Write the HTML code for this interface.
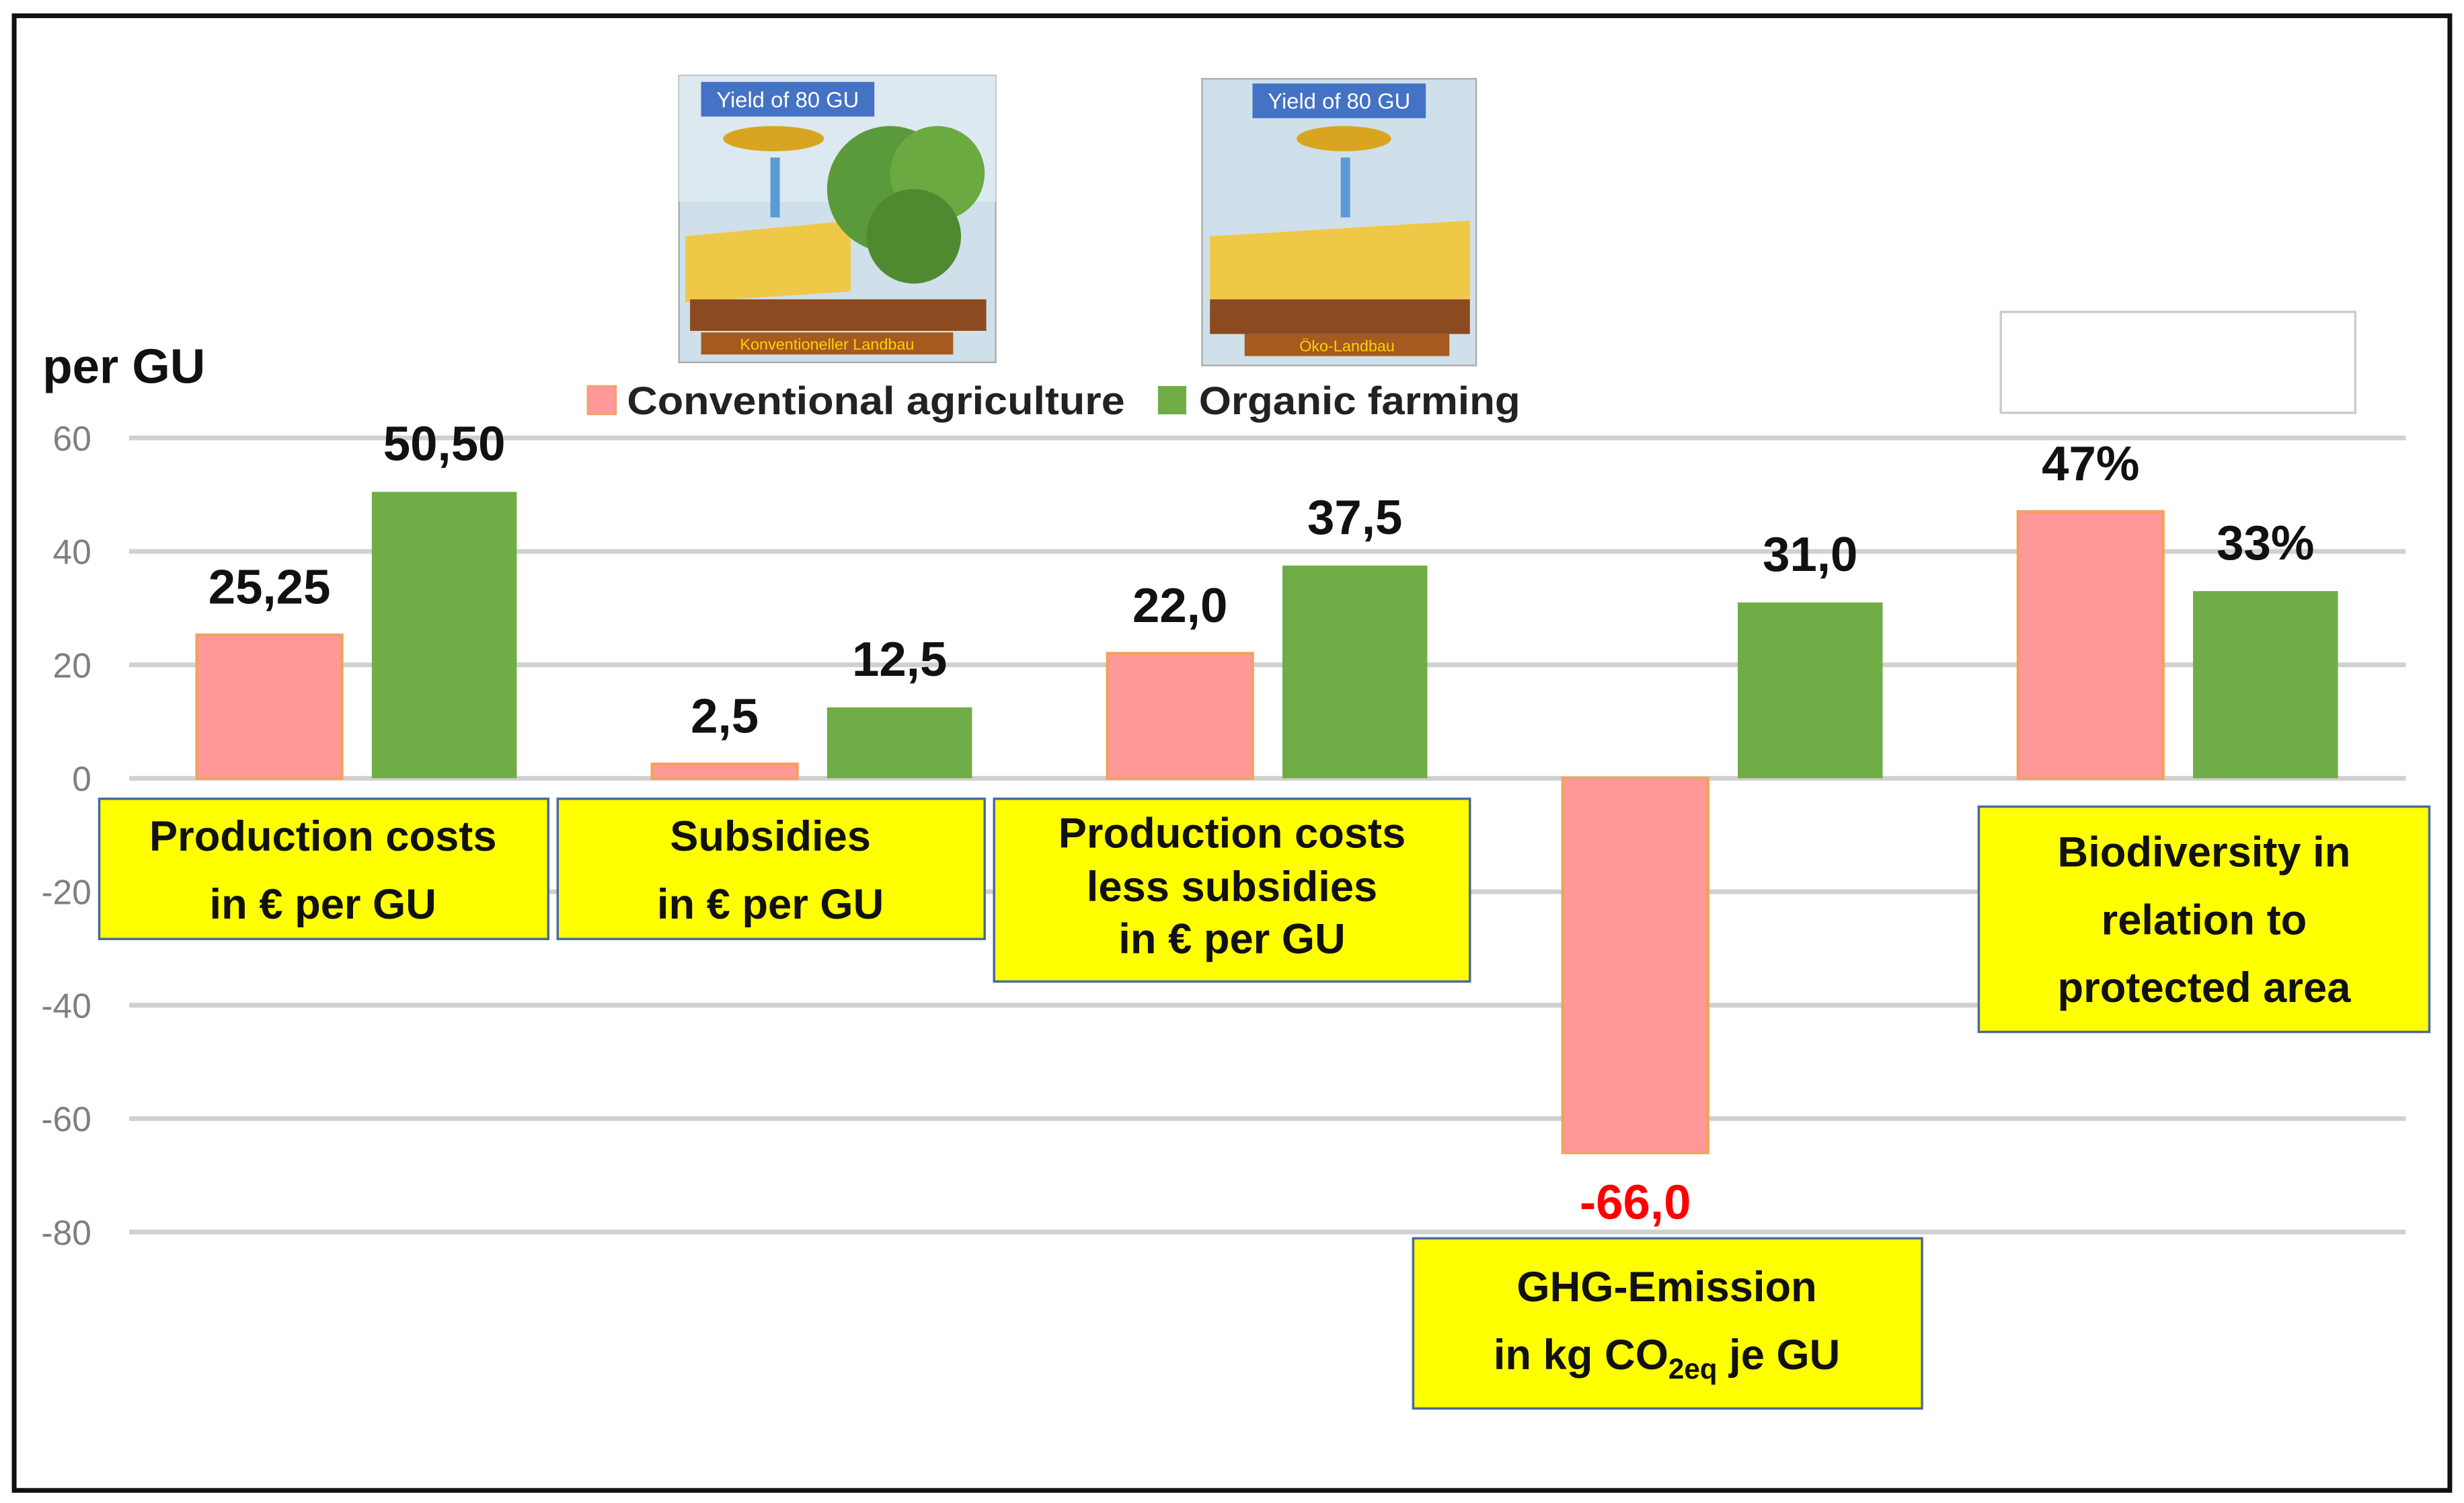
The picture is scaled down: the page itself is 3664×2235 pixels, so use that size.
<!DOCTYPE html>
<html><head><meta charset="utf-8">
<style>
html,body{margin:0;padding:0;background:#fff;}
svg{display:block;}
text{font-family:"Liberation Sans",sans-serif;}
</style></head>
<body>
<svg id="chart" width="3664" height="2235" viewBox="0 0 1564 954" preserveAspectRatio="none" xmlns="http://www.w3.org/2000/svg">
<rect x="0" y="0" width="1564" height="954" fill="#fff"/>
<rect x="9" y="10" width="1546" height="936" fill="none" stroke="#111" stroke-width="3"/>
<g id="grid"></g>
<g id="bars"></g>
<g id="labels"></g>
<text x="27" y="243" font-size="31" font-weight="bold" fill="#111">per GU</text>

<g>
  <rect x="373" y="245" width="18" height="18" fill="#ff9999" stroke="#f4a060" stroke-width="1"/>
  <text x="398" y="263" font-size="25" font-weight="bold" fill="#222" textLength="316" lengthAdjust="spacingAndGlyphs">Conventional agriculture</text>
  <rect x="735" y="245" width="18" height="18" fill="#70ad47"/>
  <text x="761" y="263" font-size="25" font-weight="bold" fill="#222" textLength="204" lengthAdjust="spacingAndGlyphs">Organic farming</text>
</g>
<rect x="1270" y="198" width="225" height="64" fill="#fff" stroke="#ccc" stroke-width="1.5"/>

<g>
  <rect x="431" y="48" width="201" height="182" fill="#cfe0ea" stroke="#aaa"/>
  <rect x="431" y="48" width="201" height="80" fill="#dde9f0"/>
  <rect x="445" y="52" width="110" height="22" fill="#4472c4"/>
  <text x="500" y="68" font-size="14" fill="#fff" text-anchor="middle">Yield of 80 GU</text>
  <ellipse cx="491" cy="88" rx="32" ry="8" fill="#d9a520"/>
  <rect x="489" y="100" width="6" height="38" fill="#5b9bd5"/>
  <polygon points="435,150 540,140 540,185 435,192" fill="#f0c848"/>
  <circle cx="565" cy="120" r="40" fill="#5a9a3a"/><circle cx="595" cy="110" r="30" fill="#6aaa40"/><circle cx="580" cy="150" r="30" fill="#4f8a30"/>
  <rect x="438" y="190" width="188" height="20" fill="#8b4a20"/>
  <rect x="445" y="211" width="160" height="14" fill="#a55a20"/>
  <text x="525" y="222" font-size="10" fill="#ffd000" text-anchor="middle">Konventioneller Landbau</text>
</g>
<g>
  <rect x="763" y="50" width="174" height="182" fill="#cfe0ea" stroke="#aaa"/>
  <rect x="795" y="53" width="110" height="22" fill="#4472c4"/>
  <text x="850" y="69" font-size="14" fill="#fff" text-anchor="middle">Yield of 80 GU</text>
  <ellipse cx="853" cy="88" rx="30" ry="8" fill="#d9a520"/>
  <rect x="851" y="100" width="6" height="38" fill="#5b9bd5"/>
  <polygon points="768,150 933,140 933,190 768,195" fill="#f0c848"/>
  <rect x="768" y="190" width="165" height="22" fill="#8b4a20"/>
  <rect x="790" y="212" width="130" height="14" fill="#a55a20"/>
  <text x="855" y="223" font-size="10" fill="#ffd000" text-anchor="middle">Öko-Landbau</text>
</g>

<g font-size="27" font-weight="bold" fill="#111" text-anchor="middle">
  <g>
    <rect x="63" y="507" width="285" height="89" fill="#ffff00" stroke="#4a6aa0" stroke-width="1.5"/>
    <text x="205" y="540">Production costs</text><text x="205" y="583">in € per GU</text>
  </g>
  <g>
    <rect x="354" y="507" width="271" height="89" fill="#ffff00" stroke="#4a6aa0" stroke-width="1.5"/>
    <text x="489" y="540">Subsidies</text><text x="489" y="583">in € per GU</text>
  </g>
  <g>
    <rect x="631" y="507" width="302" height="116" fill="#ffff00" stroke="#4a6aa0" stroke-width="1.5"/>
    <text x="782" y="538">Production costs</text><text x="782" y="572">less subsidies</text><text x="782" y="605">in € per GU</text>
  </g>
  <g>
    <rect x="897" y="786" width="323" height="108" fill="#ffff00" stroke="#4a6aa0" stroke-width="1.5"/>
    <text x="1058" y="826">GHG-Emission</text>
    <text x="1058" y="869">in kg CO<tspan font-size="18" dy="6">2eq</tspan><tspan dy="-6"> je GU</tspan></text>
  </g>
  <g>
    <rect x="1256" y="512" width="286" height="143" fill="#ffff00" stroke="#4a6aa0" stroke-width="1.5"/>
    <text x="1399" y="550">Biodiversity in</text><text x="1399" y="593">relation to</text><text x="1399" y="636">protected area</text>
  </g>
</g>

<script>
const ticks = [60, 40, 20, 0, -20, -40, -60, -80];
const categories = ["Production costs", "Subsidies", "Costs less subsidies", "GHG-Emission", "Biodiversity"];
const conventional = [25.25, 2.5, 22.0, -66.0, 47];
const organic = [50.5, 12.5, 37.5, 31.0, 33];
const convLabels = ["25,25", "2,5", "22,0", "-66,0", "47%"];
const orgLabels = ["50,50", "12,5", "37,5", "31,0", "33%"];

const NS = "http://www.w3.org/2000/svg";
const plotL = 82, plotR = 1527, groupW = 289, barW = 92;
function y(v){ return 494 - v * 3.6; }
function gx(i){ return plotL + i * groupW; }
function mk(tag, attrs, parent){ const e = document.createElementNS(NS, tag); for (const k in attrs) e.setAttribute(k, attrs[k]); parent.appendChild(e); return e; }

const grid = document.getElementById("grid");
ticks.forEach(t => {
  const l = mk("line", {x1: plotL, x2: plotR, y1: y(t), y2: y(t), stroke: "#d0d0d0", "stroke-width": 3}, grid);
  
  
  const tx = mk("text", {x: 58, y: y(t) + 8, "font-size": 22, fill: "#7f7f7f", "text-anchor": "end"}, grid);
  tx.textContent = String(t);
  
  
});

const bars = document.getElementById("bars");
const labels = document.getElementById("labels");
categories.forEach((c, i) => {
  const x0 = gx(i) + 43, x1 = gx(i) + 154;
  const cv = conventional[i], ov = organic[i];
  const r1 = mk("rect", {x: x0, y: Math.min(y(cv), y(0)), width: barW, height: Math.abs(y(cv) - y(0)), fill: "#ff9999", stroke: "#f4a060", "stroke-width": 2}, bars);
  
  
  const r2 = mk("rect", {x: x1, y: Math.min(y(ov), y(0)), width: barW, height: Math.abs(y(ov) - y(0)), fill: "#70ad47"}, bars);
  
  
  const l1 = mk("text", {x: x0 + barW/2, y: cv >= 0 ? y(cv) - 20 : y(cv) + 42, "font-size": 31, "font-weight": "bold", fill: cv >= 0 ? "#111" : "#ff0000", "text-anchor": "middle"}, labels);
  l1.textContent = convLabels[i];
  
  
  const l2 = mk("text", {x: x1 + barW/2, y: ov >= 0 ? y(ov) - 20 : y(ov) + 42, "font-size": 31, "font-weight": "bold", fill: "#111", "text-anchor": "middle"}, labels);
  l2.textContent = orgLabels[i];
  
  
});
</script>
</svg>
</body></html>
